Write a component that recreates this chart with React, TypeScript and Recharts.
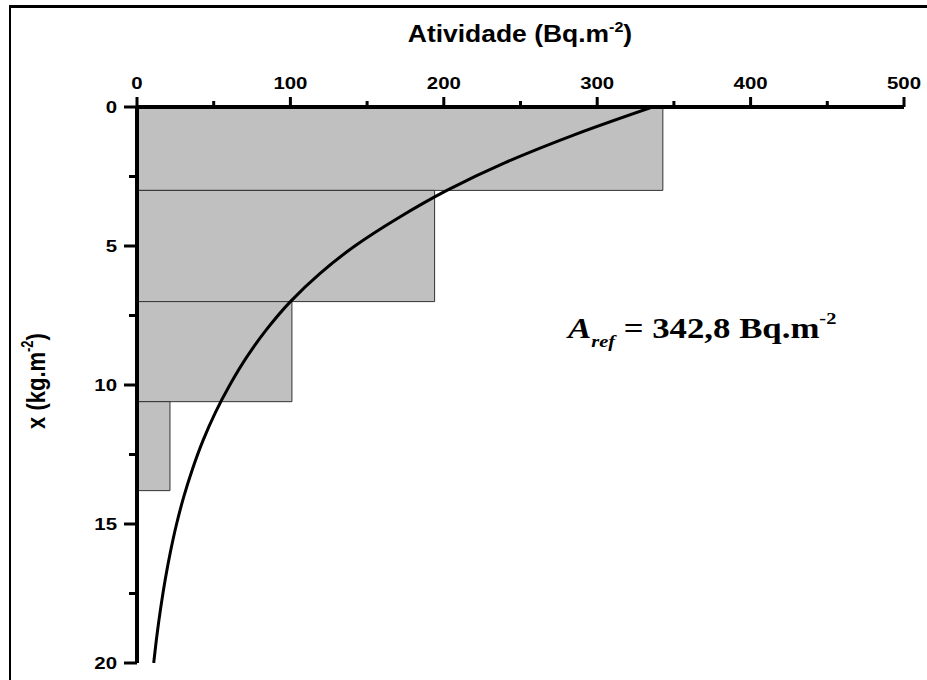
import React from 'react';
import { LineChart, Line, XAxis, YAxis, ReferenceArea } from 'recharts';

// Layer profile (depth in kg.m^-2, activity in Bq.m^-2)
const layerTop = [0, 3, 7, 10.6];
const layerBottom = [3, 7, 10.6, 13.8];
const layerActivity = [342.8, 194, 101, 21.5];

// Fitted curve
const curveDepth = [0, 1, 2, 3, 4, 5, 6, 7, 8, 9, 10, 11, 12, 13, 14, 15, 16, 17, 18, 19, 20];
const curveActivity = [336, 285, 240, 202, 170, 142, 119, 100, 84.5, 71.5, 60.5, 51, 43, 36.3, 30.6, 25.8, 21.8, 18.4, 15.5, 13, 10.9];

const xTicks = [0, 50, 100, 150, 200, 250, 300, 350, 400, 450, 500];
const yTicks = [0, 2.5, 5, 7.5, 10, 12.5, 15, 17.5, 20];

const curveData = curveDepth.map((d, i) => ({ depth: d, act: curveActivity[i] }));

const SANS = 'Liberation Sans, Arial, sans-serif';
const SERIF = 'Liberation Serif, Times New Roman, serif';
const SX = 1.2;

const TopTick = (props: any) => {
  const { x, y, payload } = props;
  const v = payload.value;
  const major = v % 100 === 0;
  return (
    <g>
      <line x1={x} x2={x} y1={y} y2={y - (major ? 10 : 6)} stroke="#000" strokeWidth={3} />
      {major && (
        <text
          transform={`translate(${x},${y - 18}) scale(${SX},1)`}
          textAnchor="middle"
          fontFamily={SANS}
          fontWeight="bold"
          fontSize={17}
          fill="#000"
        >
          {v}
        </text>
      )}
    </g>
  );
};

const LeftTick = (props: any) => {
  const { x, y, payload } = props;
  const v = payload.value;
  const major = v % 5 === 0;
  return (
    <g>
      <line x1={x} x2={x - (major ? 13 : 8)} y1={y} y2={y} stroke="#000" strokeWidth={3} />
      {major && (
        <text
          transform={`translate(${x - 20},${y + 6}) scale(${SX},1)`}
          textAnchor="end"
          fontFamily={SANS}
          fontWeight="bold"
          fontSize={17}
          fill="#000"
        >
          {v}
        </text>
      )}
    </g>
  );
};

export default function App() {
  return (
    <div style={{ position: 'absolute', left: 0, top: 0, width: 927, height: 680, background: '#fff', overflow: 'hidden' }}>
      <div
        style={{
          position: 'absolute',
          left: 9,
          top: 5,
          width: 930,
          height: 690,
          borderLeft: '2px solid #000',
          borderTop: '3px solid #000',
        }}
      />
      <div style={{ position: 'absolute', left: 0, top: 0 }}>
        <LineChart
          width={927}
          height={680}
          layout="vertical"
          data={curveData}
          margin={{ top: 0, left: 0, right: 23, bottom: 17 }}
        >
          <XAxis
            type="number"
            dataKey="act"
            orientation="top"
            domain={[0, 500]}
            ticks={xTicks}
            height={107}
            tickSize={0}
            tickMargin={0}
            tick={<TopTick />}
            tickLine={false}
            axisLine={{ stroke: '#000', strokeWidth: 4 }}
            allowDataOverflow
          />
          <YAxis
            type="number"
            dataKey="depth"
            domain={[0, 20]}
            ticks={yTicks}
            width={137}
            tickSize={0}
            tickMargin={0}
            tick={<LeftTick />}
            tickLine={false}
            axisLine={{ stroke: '#000', strokeWidth: 4 }}
            allowDataOverflow
          />
          {layerTop.map((t, i) => (
            <ReferenceArea
              key={i}
              x1={0}
              x2={layerActivity[i]}
              y1={t}
              y2={layerBottom[i]}
              fill="#c0c0c0"
              fillOpacity={1}
              stroke="#333"
              strokeWidth={1}
              ifOverflow="visible"
            />
          ))}
          <Line
            dataKey="act"
            type="monotone"
            stroke="#000"
            strokeWidth={3}
            dot={false}
            isAnimationActive={false}
          />
        </LineChart>
      </div>
      <svg width={927} height={680} style={{ position: 'absolute', left: 0, top: 0, pointerEvents: 'none' }}>
        <text
          transform={`translate(520,42) scale(1.15,1)`}
          textAnchor="middle"
          fontFamily={SANS}
          fontWeight="bold"
          fontSize={23}
          fill="#000"
        >
          <tspan>Atividade (Bq.m</tspan>
          <tspan fontSize={14} dy={-10}>-2</tspan>
          <tspan dy={10}>)</tspan>
        </text>
        <text
          transform={`translate(45,381) rotate(-90) scale(1,1.2)`}
          textAnchor="middle"
          fontFamily={SANS}
          fontWeight="bold"
          fontSize={22}
          fill="#000"
        >
          <tspan>x (kg.m</tspan>
          <tspan fontSize={13} dy={-10}>-2</tspan>
          <tspan dy={10}>)</tspan>
        </text>
        <text
          transform={`translate(568,338) scale(1.2,1)`}
          fontFamily={SERIF}
          fontWeight="bold"
          fontSize={29}
          fill="#000"
        >
          <tspan fontStyle="italic">A</tspan>
          <tspan fontStyle="italic" fontSize={17} dy={9}>ref</tspan>
          <tspan dy={-9}> = 342,8 Bq.m</tspan>
          <tspan fontSize={17} dy={-14}>-2</tspan>
        </text>
      </svg>
    </div>
  );
}
